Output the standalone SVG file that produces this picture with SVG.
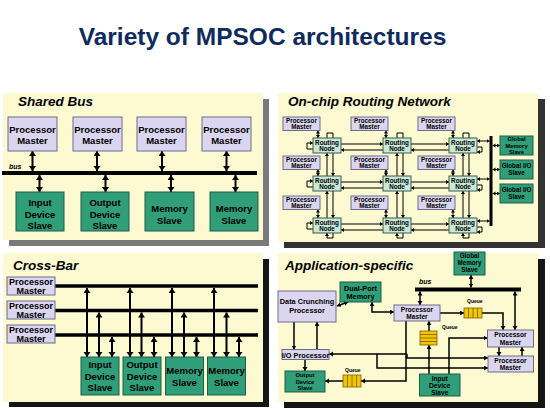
<svg xmlns="http://www.w3.org/2000/svg" width="550" height="408" viewBox="0 0 550 408">
<defs>
<style>
text{font-family:"Liberation Sans",Arial,sans-serif;font-weight:bold;fill:#000}
.title{font-size:24.5px;fill:#0D2B5C}
.pt{font-size:13.5px;font-style:italic}
.bus{font-size:7px;font-style:italic}
.panel{fill:#FDF9D0}
.pm{fill:#DAD6F0;stroke:#6E6A8E;stroke-width:1}
.sl{fill:#2F9E79;stroke:#1E5E48;stroke-width:1}
.rn{fill:#C8E8D8;stroke:#3A5A4A;stroke-width:1}
.q{fill:#F2C500;stroke:#7A6000;stroke-width:0.8}
.t95{font-size:9.5px;text-anchor:middle}
.t9{font-size:9px;text-anchor:middle}
.t65{font-size:6.3px;text-anchor:middle}
.t6{font-size:5.8px;text-anchor:middle}
.t73{font-size:7.3px;text-anchor:middle}
.t68{font-size:6.6px;text-anchor:middle}
.tq{font-size:5px}
.L{stroke:#000;stroke-width:2;fill:none}
.M{stroke:#000;stroke-width:1.5;fill:none}
.S{stroke:#000;stroke-width:1;fill:none}
.ql{stroke:#7A6000;stroke-width:0.8}
</style>
<marker id="aL" markerUnits="userSpaceOnUse" markerWidth="6" markerHeight="8" refX="5" refY="3.5" orient="auto-start-reverse"><path d="M0,0L5,3.5L0,7z" fill="#000"/></marker>
<marker id="aM" markerUnits="userSpaceOnUse" markerWidth="5" markerHeight="6" refX="4" refY="2.5" orient="auto-start-reverse"><path d="M0,0L4,2.5L0,5z" fill="#000"/></marker>
<marker id="aS" markerUnits="userSpaceOnUse" markerWidth="4" markerHeight="5" refX="3" refY="2" orient="auto-start-reverse"><path d="M0,0L3,2L0,4z" fill="#000"/></marker>
</defs>

<text class="title" x="262.5" y="45" text-anchor="middle">Variety of MPSOC architectures</text>

<!-- Panel backgrounds -->
<g id="panel-shared-bus">
<rect x="9" y="99" width="260" height="147" fill="#7A7A7A"/>
<rect class="panel" x="3" y="93" width="260" height="147"/>
<text class="pt" x="18" y="106">Shared Bus</text>
</g>
<g id="panel-routing">
<rect x="284" y="99" width="261" height="149" fill="#333"/>
<rect class="panel" x="278" y="93" width="260" height="149"/>
<text class="pt" x="288" y="106">On-chip Routing Network</text>
</g>
<g id="panel-crossbar">
<rect x="9" y="259" width="260" height="148" fill="#151515"/>
<rect class="panel" x="3" y="253" width="260" height="149"/>
<text class="pt" x="13" y="270">Cross-Bar</text>
</g>
<g id="panel-app">
<rect x="284" y="259" width="261" height="149" fill="#151515"/>
<rect class="panel" x="278" y="253" width="260" height="149"/>
<text class="pt" x="285" y="270">Application-specific</text>
</g>

<!-- ===== Shared Bus ===== -->
<g id="sb-connectors">
<line x1="2" y1="173" x2="257" y2="173" stroke="#000" stroke-width="4"/>
<text class="bus" x="9" y="169">bus</text>
<line class="L" x1="32.5" y1="151" x2="32.5" y2="171" marker-start="url(#aL)" marker-end="url(#aL)"/>
<line class="L" x1="97" y1="151" x2="97" y2="171" marker-start="url(#aL)" marker-end="url(#aL)"/>
<line class="L" x1="162" y1="151" x2="162" y2="171" marker-start="url(#aL)" marker-end="url(#aL)"/>
<line class="L" x1="226.5" y1="151" x2="226.5" y2="171" marker-start="url(#aL)" marker-end="url(#aL)"/>
<line class="L" x1="39.5" y1="175" x2="39.5" y2="192" marker-start="url(#aL)" marker-end="url(#aL)"/>
<line class="L" x1="105.5" y1="175" x2="105.5" y2="192" marker-start="url(#aL)" marker-end="url(#aL)"/>
<line class="L" x1="171" y1="175" x2="171" y2="192" marker-start="url(#aL)" marker-end="url(#aL)"/>
<line class="L" x1="235.5" y1="175" x2="235.5" y2="192" marker-start="url(#aL)" marker-end="url(#aL)"/>
</g>
<g id="sb-pm1"><rect class="pm" x="8" y="117" width="49" height="34"/><text class="t95" x="32.5" y="133">Processor</text><text class="t95" x="32.5" y="144">Master</text></g>
<g id="sb-pm2"><rect class="pm" x="73" y="117" width="49" height="34"/><text class="t95" x="97.5" y="133">Processor</text><text class="t95" x="97.5" y="144">Master</text></g>
<g id="sb-pm3"><rect class="pm" x="137" y="117" width="49" height="34"/><text class="t95" x="161.5" y="133">Processor</text><text class="t95" x="161.5" y="144">Master</text></g>
<g id="sb-pm4"><rect class="pm" x="202" y="117" width="49" height="34"/><text class="t95" x="226.5" y="133">Processor</text><text class="t95" x="226.5" y="144">Master</text></g>
<g id="sb-in"><rect class="sl" x="16" y="192" width="48" height="39"/><text class="t95" x="40" y="206">Input</text><text class="t95" x="40" y="217.5">Device</text><text class="t95" x="40" y="229">Slave</text></g>
<g id="sb-out"><rect class="sl" x="81" y="192" width="48" height="39"/><text class="t95" x="105" y="206">Output</text><text class="t95" x="105" y="217.5">Device</text><text class="t95" x="105" y="229">Slave</text></g>
<g id="sb-mem1"><rect class="sl" x="145" y="192" width="49" height="39"/><text class="t95" x="169.5" y="212">Memory</text><text class="t95" x="169.5" y="223.5">Slave</text></g>
<g id="sb-mem2"><rect class="sl" x="210" y="192" width="48" height="39"/><text class="t95" x="234" y="212">Memory</text><text class="t95" x="234" y="223.5">Slave</text></g>

<!-- ===== Cross-Bar ===== -->
<g id="cb-connectors">
<line x1="55" y1="286" x2="258" y2="286" stroke="#000" stroke-width="3.5"/>
<line x1="55" y1="310.5" x2="258" y2="310.5" stroke="#000" stroke-width="3.5"/>
<line x1="55" y1="335" x2="258" y2="335" stroke="#000" stroke-width="3.5"/>
<g marker-start="url(#aL)" marker-end="url(#aL)">
<line class="L" x1="87" y1="288" x2="87" y2="357"/>
<line class="L" x1="99" y1="312.5" x2="99" y2="357"/>
<line class="L" x1="112" y1="337" x2="112" y2="357"/>
<line class="L" x1="130" y1="288" x2="130" y2="357"/>
<line class="L" x1="141.5" y1="312.5" x2="141.5" y2="357"/>
<line class="L" x1="154" y1="337" x2="154" y2="357"/>
<line class="L" x1="172" y1="288" x2="172" y2="357"/>
<line class="L" x1="184" y1="312.5" x2="184" y2="357"/>
<line class="L" x1="196.5" y1="337" x2="196.5" y2="357"/>
<line class="L" x1="214" y1="288" x2="214" y2="357"/>
<line class="L" x1="226.5" y1="312.5" x2="226.5" y2="357"/>
<line class="L" x1="239" y1="337" x2="239" y2="357"/>
</g>
</g>
<g id="cb-pm1"><rect class="pm" x="7" y="277" width="48" height="18"/><text class="t9" x="31" y="284.8">Processor</text><text class="t9" x="31" y="294.3">Master</text></g>
<g id="cb-pm2"><rect class="pm" x="7" y="301" width="48" height="18"/><text class="t9" x="31" y="308.8">Processor</text><text class="t9" x="31" y="318.3">Master</text></g>
<g id="cb-pm3"><rect class="pm" x="7" y="325" width="48" height="18"/><text class="t9" x="31" y="332.8">Processor</text><text class="t9" x="31" y="342.3">Master</text></g>
<g id="cb-in"><rect class="sl" x="81" y="357" width="38" height="38"/><text class="t95" x="100" y="368">Input</text><text class="t95" x="100" y="379.5">Device</text><text class="t95" x="100" y="391">Slave</text></g>
<g id="cb-out"><rect class="sl" x="123" y="357" width="38" height="38"/><text class="t95" x="142" y="368">Output</text><text class="t95" x="142" y="379.5">Device</text><text class="t95" x="142" y="391">Slave</text></g>
<g id="cb-mem1"><rect class="sl" x="165.5" y="357" width="38" height="38"/><text class="t95" x="184.5" y="374">Memory</text><text class="t95" x="184.5" y="385.5">Slave</text></g>
<g id="cb-mem2"><rect class="sl" x="207.5" y="357" width="38" height="38"/><text class="t95" x="226.5" y="374">Memory</text><text class="t95" x="226.5" y="385.5">Slave</text></g>

<!-- ===== Routing Network ===== -->
<g id="rn-connectors">
<line x1="491" y1="136" x2="491" y2="226" stroke="#000" stroke-width="3"/>
<g class="S">
<line x1="318" y1="130.5" x2="318" y2="138" marker-start="url(#aS)" marker-end="url(#aS)"/>
<line x1="386" y1="130.5" x2="386" y2="138" marker-start="url(#aS)" marker-end="url(#aS)"/>
<line x1="453" y1="130.5" x2="453" y2="138" marker-start="url(#aS)" marker-end="url(#aS)"/>
<line x1="318" y1="169.5" x2="318" y2="176" marker-start="url(#aS)" marker-end="url(#aS)"/>
<line x1="386" y1="169.5" x2="386" y2="176" marker-start="url(#aS)" marker-end="url(#aS)"/>
<line x1="453" y1="169.5" x2="453" y2="176" marker-start="url(#aS)" marker-end="url(#aS)"/>
<line x1="318" y1="209.5" x2="318" y2="218" marker-start="url(#aS)" marker-end="url(#aS)"/>
<line x1="386" y1="209.5" x2="386" y2="218" marker-start="url(#aS)" marker-end="url(#aS)"/>
<line x1="453" y1="209.5" x2="453" y2="218" marker-start="url(#aS)" marker-end="url(#aS)"/>
<path d="M327,138V133H333V138"/>
<path d="M397,138V133H403V138"/>
<path d="M463,138V133H469V138"/>
<path d="M333,233V238H327V233" marker-end="url(#aS)"/>
<path d="M403,233V238H397V233" marker-end="url(#aS)"/>
<path d="M469,233V238H463V233" marker-end="url(#aS)"/>
<line x1="327" y1="176" x2="327" y2="153" marker-end="url(#aS)"/>
<line x1="333" y1="153" x2="333" y2="176" marker-end="url(#aS)"/>
<line x1="397" y1="176" x2="397" y2="153" marker-end="url(#aS)"/>
<line x1="403" y1="153" x2="403" y2="176" marker-end="url(#aS)"/>
<line x1="463" y1="176" x2="463" y2="153" marker-end="url(#aS)"/>
<line x1="469" y1="153" x2="469" y2="176" marker-end="url(#aS)"/>
<line x1="327" y1="218" x2="327" y2="191" marker-end="url(#aS)"/>
<line x1="333" y1="191" x2="333" y2="218" marker-end="url(#aS)"/>
<line x1="397" y1="218" x2="397" y2="191" marker-end="url(#aS)"/>
<line x1="403" y1="191" x2="403" y2="218" marker-end="url(#aS)"/>
<line x1="463" y1="218" x2="463" y2="191" marker-end="url(#aS)"/>
<line x1="469" y1="191" x2="469" y2="218" marker-end="url(#aS)"/>
<line x1="341" y1="144" x2="383" y2="144" marker-end="url(#aS)"/>
<line x1="341" y1="150" x2="383" y2="150" marker-start="url(#aS)"/>
<line x1="411" y1="144" x2="449" y2="144" marker-end="url(#aS)"/>
<line x1="411" y1="150" x2="449" y2="150" marker-start="url(#aS)"/>
<line x1="341" y1="182" x2="383" y2="182" marker-end="url(#aS)"/>
<line x1="341" y1="188" x2="383" y2="188" marker-start="url(#aS)"/>
<line x1="411" y1="182" x2="449" y2="182" marker-end="url(#aS)"/>
<line x1="411" y1="188" x2="449" y2="188" marker-start="url(#aS)"/>
<line x1="341" y1="224" x2="383" y2="224" marker-end="url(#aS)"/>
<line x1="341" y1="230" x2="383" y2="230" marker-start="url(#aS)"/>
<line x1="411" y1="224" x2="449" y2="224" marker-end="url(#aS)"/>
<line x1="411" y1="230" x2="449" y2="230" marker-start="url(#aS)"/>
<path d="M313,149H307V143H313" marker-end="url(#aS)"/>
<path d="M313,187H307V181H313" marker-end="url(#aS)"/>
<path d="M313,229H307V223H313" marker-end="url(#aS)"/>
<path d="M477,147H482V152H477" marker-end="url(#aS)"/>
<path d="M477,185H482V190H477" marker-end="url(#aS)"/>
<path d="M477,227H482V232H477" marker-end="url(#aS)"/>
<line x1="477" y1="141" x2="489.5" y2="141" marker-start="url(#aS)" marker-end="url(#aS)"/>
<line x1="477" y1="179" x2="489.5" y2="179" marker-start="url(#aS)" marker-end="url(#aS)"/>
<line x1="477" y1="221" x2="489.5" y2="221" marker-start="url(#aS)" marker-end="url(#aS)"/>
<line x1="492.5" y1="145.5" x2="500" y2="145.5" marker-start="url(#aS)" marker-end="url(#aS)"/>
<line x1="492.5" y1="169.5" x2="500" y2="169.5" marker-start="url(#aS)" marker-end="url(#aS)"/>
<line x1="492.5" y1="193.5" x2="500" y2="193.5" marker-start="url(#aS)" marker-end="url(#aS)"/>
</g>
</g>
<g id="rn-pm11"><rect class="pm" x="283" y="117" width="37" height="13.5"/><text class="t65" x="301.5" y="123">Processor</text><text class="t65" x="301.5" y="129">Master</text></g>
<g id="rn-pm12"><rect class="pm" x="351" y="117" width="37" height="13.5"/><text class="t65" x="369.5" y="123">Processor</text><text class="t65" x="369.5" y="129">Master</text></g>
<g id="rn-pm13"><rect class="pm" x="418" y="117" width="37" height="13.5"/><text class="t65" x="436.5" y="123">Processor</text><text class="t65" x="436.5" y="129">Master</text></g>
<g id="rn-pm21"><rect class="pm" x="283" y="156" width="37" height="13.5"/><text class="t65" x="301.5" y="162">Processor</text><text class="t65" x="301.5" y="168">Master</text></g>
<g id="rn-pm22"><rect class="pm" x="351" y="156" width="37" height="13.5"/><text class="t65" x="369.5" y="162">Processor</text><text class="t65" x="369.5" y="168">Master</text></g>
<g id="rn-pm23"><rect class="pm" x="418" y="156" width="37" height="13.5"/><text class="t65" x="436.5" y="162">Processor</text><text class="t65" x="436.5" y="168">Master</text></g>
<g id="rn-pm31"><rect class="pm" x="283" y="196" width="37" height="13.5"/><text class="t65" x="301.5" y="202">Processor</text><text class="t65" x="301.5" y="208">Master</text></g>
<g id="rn-pm32"><rect class="pm" x="351" y="196" width="37" height="13.5"/><text class="t65" x="369.5" y="202">Processor</text><text class="t65" x="369.5" y="208">Master</text></g>
<g id="rn-pm33"><rect class="pm" x="418" y="196" width="37" height="13.5"/><text class="t65" x="436.5" y="202">Processor</text><text class="t65" x="436.5" y="208">Master</text></g>
<g id="rn-n11"><rect class="rn" x="313" y="138" width="28" height="15"/><text class="t65" x="327" y="144.5">Routing</text><text class="t65" x="327" y="151">Node</text></g>
<g id="rn-n12"><rect class="rn" x="383" y="138" width="28" height="15"/><text class="t65" x="397" y="144.5">Routing</text><text class="t65" x="397" y="151">Node</text></g>
<g id="rn-n13"><rect class="rn" x="449" y="138" width="28" height="15"/><text class="t65" x="463" y="144.5">Routing</text><text class="t65" x="463" y="151">Node</text></g>
<g id="rn-n21"><rect class="rn" x="313" y="176" width="28" height="15"/><text class="t65" x="327" y="182.5">Routing</text><text class="t65" x="327" y="189">Node</text></g>
<g id="rn-n22"><rect class="rn" x="383" y="176" width="28" height="15"/><text class="t65" x="397" y="182.5">Routing</text><text class="t65" x="397" y="189">Node</text></g>
<g id="rn-n23"><rect class="rn" x="449" y="176" width="28" height="15"/><text class="t65" x="463" y="182.5">Routing</text><text class="t65" x="463" y="189">Node</text></g>
<g id="rn-n31"><rect class="rn" x="313" y="218" width="28" height="15"/><text class="t65" x="327" y="224.5">Routing</text><text class="t65" x="327" y="231">Node</text></g>
<g id="rn-n32"><rect class="rn" x="383" y="218" width="28" height="15"/><text class="t65" x="397" y="224.5">Routing</text><text class="t65" x="397" y="231">Node</text></g>
<g id="rn-n33"><rect class="rn" x="449" y="218" width="28" height="15"/><text class="t65" x="463" y="224.5">Routing</text><text class="t65" x="463" y="231">Node</text></g>
<g id="rn-gms"><rect class="sl" x="500" y="136" width="33" height="19"/><text class="t6" x="516.5" y="141.3">Global</text><text class="t6" x="516.5" y="147.5">Memory</text><text class="t6" x="516.5" y="153.7">Slave</text></g>
<g id="rn-gio1"><rect class="sl" x="500" y="160" width="33" height="19"/><text class="t65" x="516.5" y="168">Global I/O</text><text class="t65" x="516.5" y="175">Slave</text></g>
<g id="rn-gio2"><rect class="sl" x="500" y="184" width="33" height="19"/><text class="t65" x="516.5" y="192">Global I/O</text><text class="t65" x="516.5" y="199">Slave</text></g>

<!-- ===== Application-specific ===== -->
<g id="as-connectors">
<line x1="415" y1="289.5" x2="521" y2="289.5" stroke="#000" stroke-width="4"/>
<text class="bus" x="419" y="284">bus</text>
<g class="M">
<line x1="471" y1="275" x2="471" y2="287.5" marker-start="url(#aM)" marker-end="url(#aM)"/>
<line x1="337" y1="306" x2="348" y2="302" marker-start="url(#aM)" marker-end="url(#aM)"/>
<path d="M372,302V312H394" marker-start="url(#aM)" marker-end="url(#aM)"/>
<line x1="420" y1="305" x2="420" y2="291.5" marker-start="url(#aM)" marker-end="url(#aM)"/>
<line x1="440" y1="313" x2="464" y2="313" marker-end="url(#aM)"/>
<path d="M482,313H503V330" marker-end="url(#aM)"/>
<line x1="515" y1="291.5" x2="515" y2="330" marker-start="url(#aM)" marker-end="url(#aM)"/>
<line x1="499" y1="347" x2="499" y2="356" marker-end="url(#aM)"/>
<line x1="522" y1="356" x2="522" y2="347" marker-end="url(#aM)"/>
<line x1="429" y1="331" x2="429" y2="321" marker-end="url(#aM)"/>
<line x1="429" y1="374" x2="429" y2="345" marker-end="url(#aM)"/>
<path d="M449,374V338H487.5" marker-end="url(#aM)"/>
<line x1="294" y1="322" x2="294" y2="349.5" marker-end="url(#aM)"/>
<line x1="317" y1="349.5" x2="317" y2="322" marker-end="url(#aM)"/>
<line x1="305" y1="359.5" x2="305" y2="371" marker-end="url(#aM)"/>
<path d="M406,321V381H361" marker-end="url(#aM)"/>
<line x1="343" y1="381" x2="325" y2="381" marker-end="url(#aM)"/>
<line x1="407" y1="354" x2="329" y2="354" marker-end="url(#aM)"/>
<path d="M407,354V358H488" marker-end="url(#aM)"/>
<path d="M377,354V368H488" marker-end="url(#aM)"/>
</g>
</g>
<g id="as-gms"><rect class="sl" x="454" y="252" width="31" height="23"/><text class="t65" x="469.5" y="258">Global</text><text class="t65" x="469.5" y="265">Memory</text><text class="t65" x="469.5" y="272">Slave</text></g>
<g id="as-dpm"><rect class="sl" x="340" y="282" width="41" height="20"/><text class="t73" x="360.5" y="290.5">Dual-Port</text><text class="t73" x="360.5" y="298.5">Memory</text></g>
<g id="as-dcp"><rect class="pm" x="278" y="291" width="58" height="31"/><text class="t73" x="307" y="304">Data Crunching</text><text class="t73" x="307" y="313">Processor</text></g>
<g id="as-pm1"><rect class="pm" x="394" y="305" width="46" height="16"/><text class="t68" x="417" y="311.8">Processor</text><text class="t68" x="417" y="319.3">Master</text></g>
<g id="as-q1"><rect class="q" x="464" y="308" width="18" height="10"/><line class="ql" x1="468.5" y1="308" x2="468.5" y2="318"/><line class="ql" x1="473" y1="308" x2="473" y2="318"/><line class="ql" x1="477.5" y1="308" x2="477.5" y2="318"/><text class="tq" x="467" y="303">Queue</text></g>
<g id="as-pm2"><rect class="pm" x="487.5" y="330" width="46" height="17"/><text class="t68" x="510.5" y="337.2">Processor</text><text class="t68" x="510.5" y="344.8">Master</text></g>
<g id="as-pm3"><rect class="pm" x="488" y="356" width="45.5" height="16"/><text class="t68" x="510.5" y="362.7">Processor</text><text class="t68" x="510.5" y="370.3">Master</text></g>
<g id="as-q2"><rect class="q" x="420" y="331" width="17" height="14"/><line class="ql" x1="420" y1="334.5" x2="437" y2="334.5"/><line class="ql" x1="420" y1="338" x2="437" y2="338"/><line class="ql" x1="420" y1="341.5" x2="437" y2="341.5"/><text class="tq" x="442" y="329">Queue</text></g>
<g id="as-in"><rect class="sl" x="419.5" y="374" width="40.5" height="22"/><text class="t68" x="439.75" y="380.5">Input</text><text class="t68" x="439.75" y="387.5">Device</text><text class="t68" x="439.75" y="394.5">Slave</text></g>
<g id="as-io"><rect class="pm" x="282" y="349.5" width="47" height="10"/><text class="t73" x="305.5" y="357.5">I/O Processor</text></g>
<g id="as-out"><rect class="sl" x="285" y="371" width="40" height="21"/><text class="t6" x="305" y="377.3">Output</text><text class="t6" x="305" y="383.8">Device</text><text class="t6" x="305" y="390.3">Slave</text></g>
<g id="as-q3"><rect class="q" x="343" y="375" width="18" height="12"/><line class="ql" x1="347.5" y1="375" x2="347.5" y2="387"/><line class="ql" x1="352" y1="375" x2="352" y2="387"/><line class="ql" x1="356.5" y1="375" x2="356.5" y2="387"/><text class="tq" x="345" y="372">Queue</text></g>
</svg>
